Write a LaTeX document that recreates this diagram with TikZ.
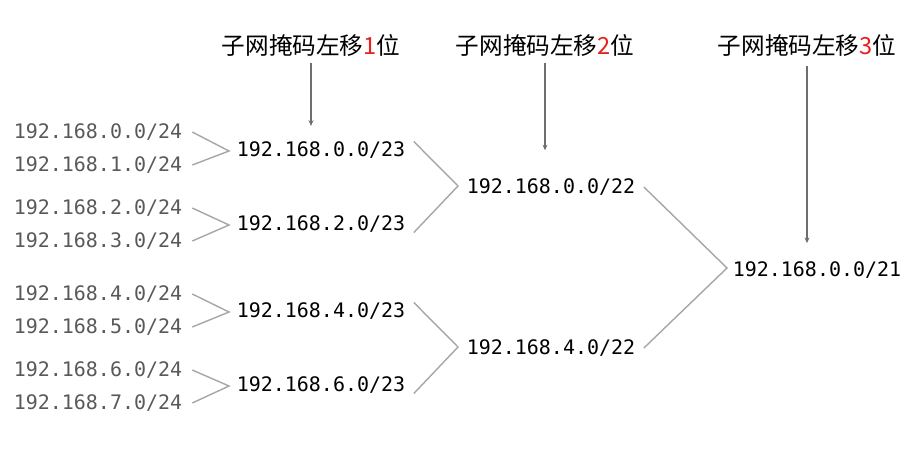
\documentclass[tikz,border=0pt]{standalone}
\usepackage{fontspec}
\setmonofont{DejaVu Sans Mono}
\newfontfamily\cjk{Noto Sans CJK SC}
\usepackage{xcolor}
\usetikzlibrary{arrows.meta}
\definecolor{linegray}{HTML}{A6A6A6}
\definecolor{arrowgray}{HTML}{6E6E6E}
\definecolor{labelgray}{HTML}{595959}
\definecolor{shiftred}{HTML}{E8201E}

\begin{document}
\begin{tikzpicture}[x=0.025cm, y=-0.025cm,
    net/.style={inner sep=0pt, font=\ttfamily\fontsize{14.2}{16}\selectfont},
    subnet/.style={net, text=labelgray},
    note/.style={inner sep=0pt, font=\cjk\fontsize{16.8}{19}\selectfont},
    merge/.style={draw=linegray, line width=1pt},
    shiftarrow/.style={draw=arrowgray, line width=0.9pt, -{Stealth[length=4pt, width=3.5pt]}}]
      \useasboundingbox (0,0) rectangle (920,450);

      % /24 networks
      \node[subnet] (s0) at (98,132) {192.168.0.0/24};
      \node[subnet] (s1) at (98,165) {192.168.1.0/24};
      \node[subnet] (s2) at (98,208) {192.168.2.0/24};
      \node[subnet] (s3) at (98,241) {192.168.3.0/24};
      \node[subnet] (s4) at (98,294) {192.168.4.0/24};
      \node[subnet] (s5) at (98,327) {192.168.5.0/24};
      \node[subnet] (s6) at (98,370) {192.168.6.0/24};
      \node[subnet] (s7) at (98,403) {192.168.7.0/24};

      % /23, /22, /21
      \node[net] (m0) at (321,150) {192.168.0.0/23};
      \node[net] (m2) at (321,224) {192.168.2.0/23};
      \node[net] (m4) at (321,311) {192.168.4.0/23};
      \node[net] (m6) at (321,385) {192.168.6.0/23};
      \node[net] (q0) at (551,187) {192.168.0.0/22};
      \node[net] (q4) at (551,348) {192.168.4.0/22};
      \node[net] (r0) at (817,270) {192.168.0.0/21};

      % headers
      \node[note] (h1) at (311,45) {子网掩码左移\textcolor{shiftred}{1}位};
      \node[note] (h2) at (545,45) {子网掩码左移\textcolor{shiftred}{2}位};
      \node[note] (h3) at (807,45) {子网掩码左移\textcolor{shiftred}{3}位};

      \coordinate (t0) at (229,151);
      \coordinate (t2) at (229,225);
      \coordinate (t4) at (229,312);
      \coordinate (t6) at (229,386);
      \coordinate (u0) at (458,186);
      \coordinate (u4) at (458,347);
      \coordinate (v0) at (727,268);

      \draw[merge] ([xshift=7pt]s0.east) -- (t0) -- ([xshift=7pt]s1.east);
      \draw[merge] ([xshift=7pt]s2.east) -- (t2) -- ([xshift=7pt]s3.east);
      \draw[merge] ([xshift=7pt]s4.east) -- (t4) -- ([xshift=7pt]s5.east);
      \draw[merge] ([xshift=7pt]s6.east) -- (t6) -- ([xshift=7pt]s7.east);
      \draw[merge] ([xshift=6pt,yshift=6pt]m0.east) -- (u0) -- ([xshift=6pt,yshift=-6pt]m2.east);
      \draw[merge] ([xshift=6pt,yshift=6pt]m4.east) -- (u4) -- ([xshift=6pt,yshift=-6pt]m6.east);
      \draw[merge] ([xshift=6pt]q0.east) -- (v0) -- ([xshift=6pt]q4.east);

      \draw[shiftarrow] ([yshift=-5pt]h1.south) -- ([yshift=11pt]h1.south |- m0.north);
      \draw[shiftarrow] ([yshift=-5pt]h2.south) -- ([yshift=20pt]h2.south |- q0.north);
      \draw[shiftarrow] ([yshift=-7pt]h3.south) -- ([yshift=13pt]h3.south |- r0.north);
    \end{tikzpicture}
\end{document}
